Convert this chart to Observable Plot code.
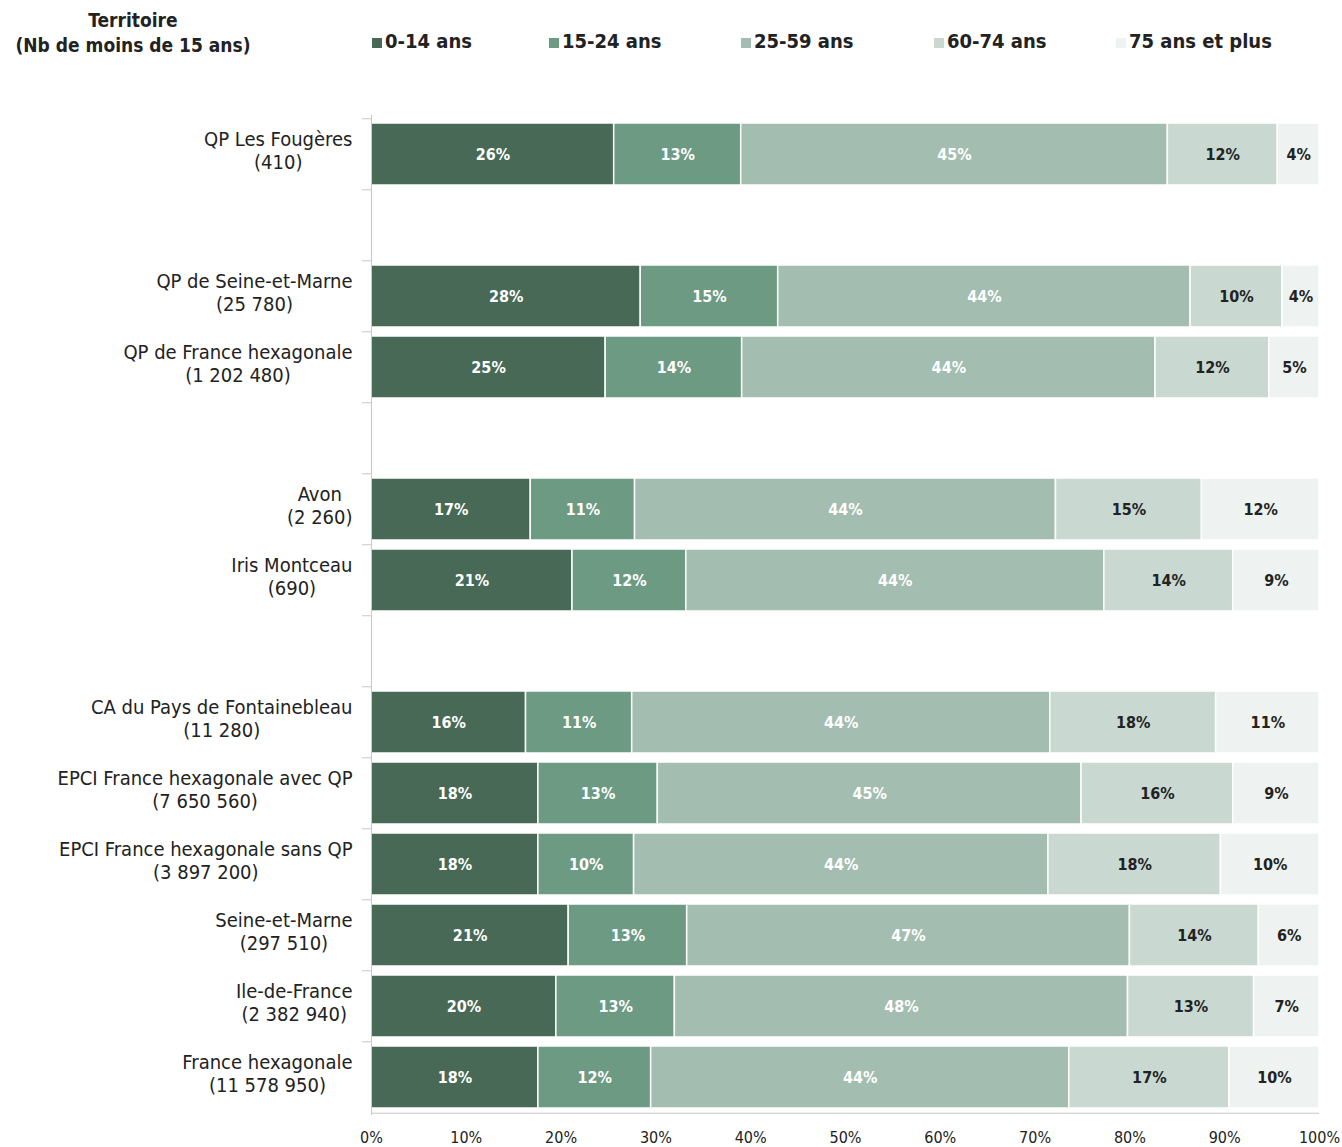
<!DOCTYPE html>
<html lang="fr">
<head>
<meta charset="utf-8">
<script src="https://cdn.jsdelivr.net/npm/d3@7"></script>
<script src="https://cdn.jsdelivr.net/npm/@observablehq/plot@0.6"></script>
<style>
  body { margin: 0; background: #fff; }
  #wrap { position: relative; width: 1342px; height: 1147px; font-family: "Liberation Sans Narrow", "DejaVu Sans Condensed", Roboto, sans-serif; color: #222; }
  #head { position: relative; height: 80px; }
  .title { position: absolute; left: 0; top: 8px; width: 266px; text-align: center; font-weight: bold; font-size: 19px; line-height: 25px; }
  .leg { position: absolute; top: 29px; font-weight: bold; font-size: 20px; display: flex; align-items: center; white-space: nowrap; }
  .sw { width: 10px; height: 10px; margin-right: 3px; margin-top: 3px; display: inline-block; }
</style>
</head>
<body>
<div id="wrap">
  <div id="head"></div>
  <div id="chart"></div>
</div>
<script>
// ---- Données ----
const territoires = ["QP Les Fougères", "QP de Seine-et-Marne", "QP de France hexagonale", "Avon", "Iris Montceau",
  "CA du Pays de Fontainebleau", "EPCI France hexagonale avec QP", "EPCI France hexagonale sans QP",
  "Seine-et-Marne", "Ile-de-France", "France hexagonale"];
const effectifs = ["410", "25 780", "1 202 480", "2 260", "690", "11 280", "7 650 560", "3 897 200", "297 510", "2 382 940", "11 578 950"];
const groupes = [0, 1, 1, 2, 2, 3, 3, 3, 3, 3, 3];
const tranches = ["0-14 ans", "15-24 ans", "25-59 ans", "60-74 ans", "75 ans et plus"];
const part_0_14 =   [25.6, 28.4, 24.7, 16.8, 21.2, 16.3, 17.6, 17.6, 20.8, 19.5, 17.6];
const part_15_24 =  [13.4, 14.5, 14.4, 11.0, 12.0, 11.2, 12.6, 10.1, 12.5, 12.5, 11.9];
const part_25_59 =  [45.0, 43.5, 43.6, 44.4, 44.1, 44.1, 44.7, 43.7, 46.7, 47.8, 44.1];
const part_60_74 =  [11.6,  9.7, 12.0, 15.4, 13.6, 17.5, 16.0, 18.2, 13.6, 13.3, 16.9];
const part_75_plus = [4.4,  3.9,  5.3, 12.4,  9.1, 10.9,  9.1, 10.4,  6.4,  6.9,  9.5];
const couleurs = ["#476956", "#6d9a83", "#a3bdb0", "#c9d9d2", "#eef2f0"];
const xTicks = [0, 10, 20, 30, 40, 50, 60, 70, 80, 90, 100];
const titre = ["Territoire", "(Nb de moins de 15 ans)"];
const legendeX = [372, 549, 741, 934, 1116];

// ---- Construction ----
const series = [part_0_14, part_15_24, part_25_59, part_60_74, part_75_plus];
const keys = territoires.map((t, i) => t + "\n(" + effectifs[i] + ")");
const domain = [];
keys.forEach((k, i) => {
  if (i > 0 && groupes[i] !== groupes[i - 1]) domain.push("sp" + i);
  domain.push(k);
});
const rows = [];
keys.forEach((k, i) => tranches.forEach((t, j) => rows.push({key: k, tranche: t, idx: j, value: series[j][i]})));

const W = 1342, H = 1067, mT = 35, mB = 32, mL = 371, mR = 23;
const padIn = 0.13, padOut = 0.065;
const band = d3.scaleBand().domain(domain).range([mT, H - mB]).paddingInner(padIn).paddingOuter(padOut);
const step = band.step(), bw = band.bandwidth();
const font = '"Liberation Sans Narrow", "DejaVu Sans Condensed", Roboto, sans-serif';
const label = d => Math.round(d.value) + "%";
const last = domain[domain.length - 1];

const chart = Plot.plot({
  width: W, height: H,
  marginTop: mT, marginBottom: mB, marginLeft: mL, marginRight: mR,
  style: {fontFamily: font, color: "#222", background: "#fff"},
  x: {domain: [0, 100], axis: null, label: null},
  y: {domain, paddingInner: padIn, paddingOuter: padOut, axis: null, label: null},
  color: {domain: tranches, range: couleurs},
  marks: [
    Plot.barX(rows, Plot.stackX({y: "key", x: "value", fill: "tranche", order: tranches, stroke: "white", strokeWidth: 1.5})),
    Plot.text(rows, Plot.stackX({y: "key", x: "value", z: "tranche", order: tranches,
      text: d => d.idx < 3 ? label(d) : null, fill: "white", fontWeight: "bold", fontSize: 16})),
    Plot.text(rows, Plot.stackX({y: "key", x: "value", z: "tranche", order: tranches,
      text: d => d.idx >= 3 ? label(d) : null, fill: "#222", fontWeight: "bold", fontSize: 16})),
    Plot.ruleX([0], {stroke: "#c8c8c8", strokeWidth: 1}),
    Plot.ruleY([last], {dy: step / 2, stroke: "#c8c8c8", strokeWidth: 1}),
    Plot.ruleY(domain, {x1: 0, x2: 0, insetLeft: -9, dy: -step / 2, stroke: "#c8c8c8", strokeWidth: 1}),
    Plot.tickX(xTicks, {x: d => d, y: last, dy: step / 2 + 4, insetTop: bw / 2 - 4, insetBottom: bw / 2 - 4, stroke: "#c8c8c8"}),
    Plot.axisX({ticks: xTicks, tickFormat: d => d + "%", tickSize: 0, tickPadding: 16, fontSize: 16, anchor: "bottom", color: "#222", label: null}),
    Plot.axisY({tickSize: 0, tickPadding: 19, fontSize: 20, lineHeight: 1.15, dy: -4, tickFormat: d => d.startsWith("sp") ? "" : d, color: "#222", label: null})
  ]
});
document.getElementById("chart").appendChild(chart);

// centre les lignes de chaque libellé de territoire l'une sous l'autre
chart.querySelectorAll('g[aria-label="y-axis tick label"] text').forEach(t => {
  const b = t.getBBox();
  if (!b.width) return;
  const cx = b.x + b.width / 2;
  t.setAttribute("text-anchor", "middle");
  t.querySelectorAll("tspan").forEach(s => s.setAttribute("x", cx));
  if (!t.querySelector("tspan")) t.setAttribute("x", cx);
});

// ---- En-tête : titre et légende ----
const head = document.getElementById("head");
const tt = document.createElement("div");
tt.className = "title";
tt.innerHTML = titre.join("<br>");
head.appendChild(tt);
tranches.forEach((t, j) => {
  const d = document.createElement("div");
  d.className = "leg";
  d.style.left = legendeX[j] + "px";
  const sw = document.createElement("span");
  sw.className = "sw";
  sw.style.background = couleurs[j];
  d.appendChild(sw);
  d.appendChild(document.createTextNode(t));
  head.appendChild(d);
});
</script>
</body>
</html>
